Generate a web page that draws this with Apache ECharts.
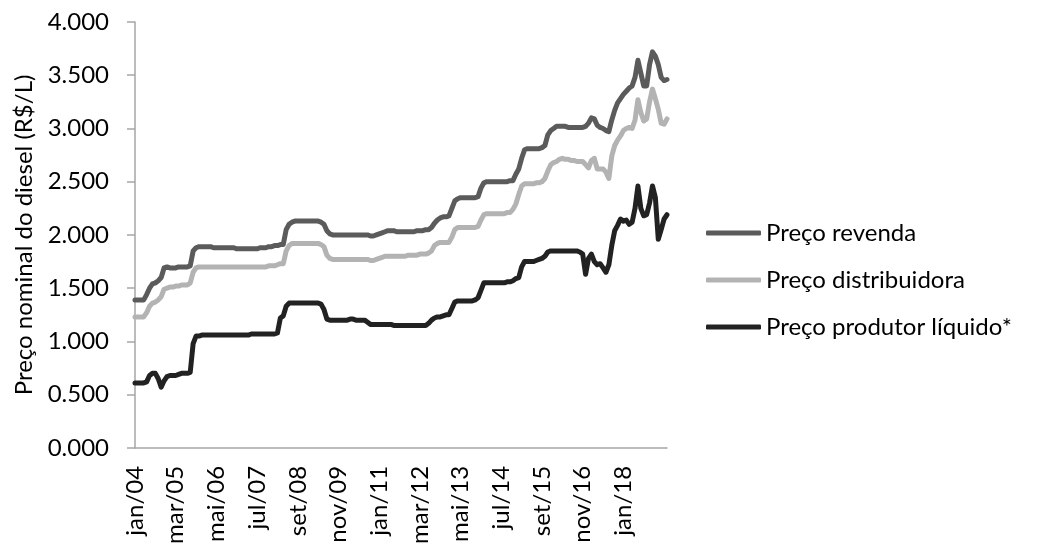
<!DOCTYPE html>
<html>
<head>
<meta charset="utf-8">
<script src="https://cdn.jsdelivr.net/npm/echarts@6/dist/echarts.min.js"></script>
<style>
  html, body { margin: 0; padding: 0; background: #ffffff; }
  #chart { width: 1040px; height: 547px; }
</style>
</head>
<body>
<div id="chart"></div>
<script>
// Monthly diesel prices, jan/2004 to abr/2019 (R$/L)
const monthNames = ['jan','fev','mar','abr','mai','jun','jul','ago','set','out','nov','dez'];
const startYear = 2004;
const monthCount = 184;
const labelStep = 14;      // one label every 14 months
const lastLabelIndex = 168; // jan/18

const revenda = [
  1.39,1.39,1.39,1.39,1.44,1.50,1.54,1.55,1.57,1.60,1.69,1.70,
  1.69,1.69,1.69,1.70,1.70,1.70,1.70,1.71,1.85,1.88,1.89,1.89,
  1.89,1.89,1.89,1.88,1.88,1.88,1.88,1.88,1.88,1.88,1.88,1.87,
  1.87,1.87,1.87,1.87,1.87,1.87,1.87,1.88,1.88,1.88,1.89,1.89,
  1.90,1.90,1.91,1.91,2.05,2.10,2.12,2.13,2.13,2.13,2.13,2.13,
  2.13,2.13,2.13,2.13,2.12,2.10,2.04,2.01,2.00,2.00,2.00,2.00,
  2.00,2.00,2.00,2.00,2.00,2.00,2.00,2.00,2.00,1.99,1.99,2.00,
  2.01,2.02,2.03,2.04,2.04,2.04,2.03,2.03,2.03,2.03,2.03,2.03,
  2.03,2.04,2.04,2.04,2.05,2.05,2.07,2.11,2.14,2.16,2.17,2.17,
  2.18,2.25,2.32,2.34,2.35,2.35,2.35,2.35,2.35,2.35,2.36,2.44,
  2.49,2.50,2.50,2.50,2.50,2.50,2.50,2.50,2.50,2.51,2.51,2.57,
  2.62,2.72,2.80,2.81,2.81,2.81,2.81,2.81,2.82,2.84,2.94,2.98,
  3.00,3.02,3.02,3.02,3.02,3.01,3.01,3.01,3.01,3.01,3.01,3.02,
  3.05,3.10,3.09,3.03,3.01,3.00,2.98,2.97,3.08,3.17,3.24,3.28,
  3.32,3.35,3.38,3.40,3.48,3.64,3.52,3.40,3.40,3.60,3.72,3.68,
  3.60,3.48,3.45,3.46
];

const distribuidora = [
  1.23,1.23,1.23,1.23,1.27,1.33,1.36,1.37,1.39,1.42,1.49,1.50,
  1.51,1.51,1.52,1.52,1.53,1.53,1.53,1.55,1.65,1.69,1.70,1.70,
  1.70,1.70,1.70,1.70,1.70,1.70,1.70,1.70,1.70,1.70,1.70,1.70,
  1.70,1.70,1.70,1.70,1.70,1.70,1.70,1.70,1.70,1.70,1.71,1.71,
  1.71,1.72,1.73,1.73,1.85,1.90,1.92,1.92,1.92,1.92,1.92,1.92,
  1.92,1.92,1.92,1.92,1.91,1.89,1.81,1.78,1.77,1.77,1.77,1.77,
  1.77,1.77,1.77,1.77,1.77,1.77,1.77,1.77,1.77,1.76,1.76,1.77,
  1.78,1.79,1.80,1.80,1.80,1.80,1.80,1.80,1.80,1.80,1.81,1.81,
  1.81,1.81,1.82,1.82,1.82,1.83,1.85,1.90,1.92,1.93,1.93,1.93,
  1.93,1.98,2.05,2.07,2.07,2.07,2.07,2.07,2.07,2.07,2.08,2.14,
  2.19,2.20,2.20,2.20,2.20,2.20,2.20,2.20,2.21,2.21,2.24,2.29,
  2.38,2.46,2.48,2.48,2.48,2.48,2.49,2.49,2.50,2.53,2.60,2.66,
  2.68,2.69,2.71,2.72,2.71,2.71,2.70,2.70,2.69,2.69,2.69,2.66,
  2.63,2.70,2.72,2.62,2.62,2.62,2.59,2.53,2.74,2.84,2.89,2.93,
  2.98,3.00,3.01,3.00,3.08,3.27,3.15,3.07,3.09,3.25,3.37,3.28,
  3.18,3.05,3.04,3.09
];

const produtor = [
  0.61,0.61,0.61,0.61,0.62,0.68,0.70,0.70,0.65,0.57,0.63,0.67,
  0.68,0.68,0.68,0.69,0.70,0.70,0.70,0.71,0.98,1.05,1.05,1.06,
  1.06,1.06,1.06,1.06,1.06,1.06,1.06,1.06,1.06,1.06,1.06,1.06,
  1.06,1.06,1.06,1.06,1.07,1.07,1.07,1.07,1.07,1.07,1.07,1.07,
  1.07,1.08,1.22,1.24,1.33,1.36,1.36,1.36,1.36,1.36,1.36,1.36,
  1.36,1.36,1.36,1.36,1.35,1.30,1.21,1.20,1.20,1.20,1.20,1.20,
  1.20,1.20,1.21,1.21,1.20,1.20,1.20,1.20,1.18,1.16,1.16,1.16,
  1.16,1.16,1.16,1.16,1.16,1.15,1.15,1.15,1.15,1.15,1.15,1.15,
  1.15,1.15,1.15,1.15,1.15,1.17,1.20,1.22,1.23,1.23,1.24,1.25,
  1.25,1.31,1.37,1.38,1.38,1.38,1.38,1.38,1.38,1.39,1.41,1.48,
  1.55,1.55,1.55,1.55,1.55,1.55,1.55,1.55,1.56,1.56,1.57,1.59,
  1.60,1.70,1.75,1.75,1.75,1.75,1.76,1.77,1.78,1.80,1.84,1.85,
  1.85,1.85,1.85,1.85,1.85,1.85,1.85,1.85,1.85,1.84,1.82,1.63,
  1.78,1.82,1.75,1.72,1.73,1.69,1.65,1.72,1.90,2.04,2.09,2.15,
  2.13,2.14,2.10,2.12,2.25,2.46,2.25,2.18,2.19,2.30,2.46,2.35,
  1.96,2.05,2.15,2.19
];

const seriesNames = ['Preço revenda', 'Preço distribuidora', 'Preço produtor líquido*'];
const seriesColors = ['#5b5b5b', '#b3b3b3', '#222222'];

// Category labels such as "jan/04"
const months = [];
for (let i = 0; i < monthCount; i++) {
  const y = startYear + Math.floor(i / 12);
  months.push(monthNames[i % 12] + '/' + String(y % 100).padStart(2, '0'));
}

const FONT = 'Lato, "Noto Sans", sans-serif';
const FONT_SIZE = 24;
const chart = echarts.init(document.getElementById('chart'), null, { renderer: 'canvas' });

const seriesData = [revenda, distribuidora, produtor];

chart.setOption({
  animation: false,
  backgroundColor: '#ffffff',
  textStyle: { fontFamily: FONT },
  grid: { left: 135, right: 373, top: 22, bottom: 94, containLabel: false },
  legend: {
    orient: 'vertical',
    left: 706,
    top: 221,
    padding: 0,
    icon: 'roundRect',
    itemWidth: 55,
    itemHeight: 5,
    itemGap: 23,
    textStyle: { fontFamily: FONT, fontSize: FONT_SIZE, color: '#000000' },
    data: seriesNames
  },
  xAxis: {
    type: 'category',
    data: months,
    boundaryGap: false,
    axisLine: { lineStyle: { color: '#a6a6a6', width: 1.5 } },
    axisTick: { show: false },
    axisLabel: {
      interval: (idx) => idx % labelStep === 0 && idx <= lastLabelIndex,
      rotate: 90,
      margin: 18,
      fontFamily: FONT,
      fontSize: FONT_SIZE,
      color: '#000000'
    },
    splitLine: { show: false }
  },
  yAxis: {
    type: 'value',
    min: 0,
    max: 4,
    interval: 0.5,
    name: 'Preço nominal do diesel (R$/L)',
    nameLocation: 'middle',
    nameGap: 97,
    nameRotate: 90,
    nameTextStyle: { fontFamily: FONT, fontSize: FONT_SIZE, color: '#000000' },
    axisLine: { show: true, lineStyle: { color: '#a6a6a6', width: 1.5 } },
    axisTick: { show: true, length: 8, lineStyle: { color: '#a6a6a6', width: 1.5 } },
    axisLabel: {
      margin: 26,
      fontFamily: FONT,
      fontSize: FONT_SIZE,
      color: '#000000',
      formatter: v => v.toFixed(3)
    },
    splitLine: { show: false }
  },
  series: seriesNames.map((name, k) => ({
    name: name,
    type: 'line',
    data: seriesData[k],
    showSymbol: false,
    symbol: 'none',
    smooth: false,
    color: seriesColors[k],
    lineStyle: { color: seriesColors[k], width: 5, cap: 'round', join: 'round' },
    z: 3 - k
  }))
});
</script>
</body>
</html>
